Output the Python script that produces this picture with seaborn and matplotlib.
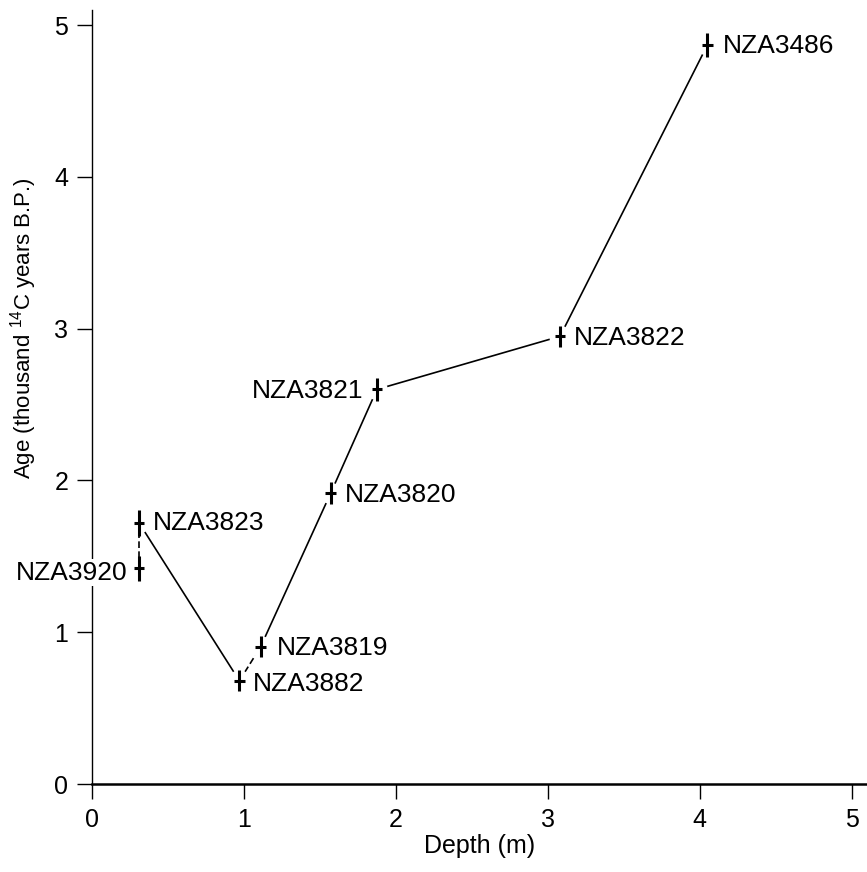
import matplotlib
matplotlib.use("Agg")
import matplotlib.pyplot as plt
import pandas as pd
import seaborn as sns

# Radiocarbon samples: depth (m) and age (thousand 14C years B.P.)
samples = ["NZA3920", "NZA3823", "NZA3882", "NZA3819",
           "NZA3820", "NZA3821", "NZA3822", "NZA3486"]
depth_m = [0.31, 0.31, 0.97, 1.11, 1.57, 1.875, 3.08, 4.05]
age_ka = [1.42, 1.72, 0.68, 0.905, 1.915, 2.60, 2.95, 4.87]
age_err = [0.085, 0.085, 0.07, 0.07, 0.073, 0.077, 0.068, 0.077]
depth_err = [0.035, 0.035, 0.035, 0.035, 0.035, 0.035, 0.035, 0.035]

# Age-depth model: solid and dashed connections between samples
solid_paths = [["NZA3823", "NZA3882"],
               ["NZA3819", "NZA3820", "NZA3821", "NZA3822", "NZA3486"]]
dashed_paths = [["NZA3920", "NZA3823"], ["NZA3882", "NZA3819"]]

x_ticks = [0, 1, 2, 3, 4, 5]
y_ticks = [0, 1, 2, 3, 4, 5]

df = pd.DataFrame({"sample": samples, "depth": depth_m, "age": age_ka,
                   "age_err": age_err, "depth_err": depth_err}).set_index("sample")

sns.set_style("ticks")
plt.rcParams["font.family"] = ["Liberation Sans", "DejaVu Sans"]
plt.rcParams["mathtext.default"] = "regular"
plt.rcParams["axes.labelcolor"] = "black"
plt.rcParams["text.color"] = "black"

fig = plt.figure(figsize=(8.67, 8.72), dpi=100)
ax = fig.add_axes([92 / 867, 1 - 784 / 872, 775 / 867, 774 / 872])

for path in solid_paths:
    sns.lineplot(data=df.loc[path].reset_index(), x="depth", y="age",
                 sort=False, estimator=None, color="black", lw=1.2, ax=ax, zorder=2)
for path in dashed_paths:
    sns.lineplot(data=df.loc[path].reset_index(), x="depth", y="age",
                 sort=False, estimator=None, color="black", lw=1.2,
                 linestyle=(0, (4, 2)), ax=ax, zorder=2)

# white halo so connecting lines stop short of each sample
sns.scatterplot(data=df.reset_index(), x="depth", y="age", s=240,
                color="white", edgecolor="none", ax=ax, zorder=3)

ax.errorbar(df["depth"], df["age"], xerr=df["depth_err"], yerr=df["age_err"],
            fmt="none", ecolor="black", elinewidth=2.2, capsize=0, zorder=4)

label_offsets = {
    "NZA3920": (-8, -3, "right"),
    "NZA3823": (10, 0, "left"),
    "NZA3882": (10, -2, "left"),
    "NZA3819": (12, -1, "left"),
    "NZA3820": (10, -1, "left"),
    "NZA3821": (-10, -1, "right"),
    "NZA3822": (10, -1, "left"),
    "NZA3486": (11, -1, "left"),
}
for name, row in df.iterrows():
    dx, dy, ha = label_offsets[name]
    kw = {}
    if name == "NZA3920":
        kw["bbox"] = dict(facecolor="white", edgecolor="none", pad=1.0)
    ax.annotate(name, (row["depth"], row["age"]), xytext=(dx, dy),
                textcoords="offset points", ha=ha, va="center",
                fontsize=19, color="black", zorder=5, **kw)

ax.set_xlim(0, 5.1)
ax.set_ylim(0, 5.1)
ax.set_xticks(x_ticks)
ax.set_yticks(y_ticks)
ax.tick_params(axis="both", direction="out", length=11, width=1.0,
               labelsize=18, colors="black", pad=6)
sns.despine(ax=ax, top=True, right=True)
ax.spines["left"].set_linewidth(1.0)
ax.spines["bottom"].set_linewidth(1.8)
ax.spines["left"].set_color("black")
ax.spines["bottom"].set_color("black")

ax.set_xlabel("Depth (m)", fontsize=18, labelpad=2, color="black")
ax.set_ylabel("Age (thousand $^{14}$C years B.P.)", fontsize=16, color="black")
ax.yaxis.set_label_coords(-0.068, 0.589)

fig.savefig("out.png", dpi=100)
